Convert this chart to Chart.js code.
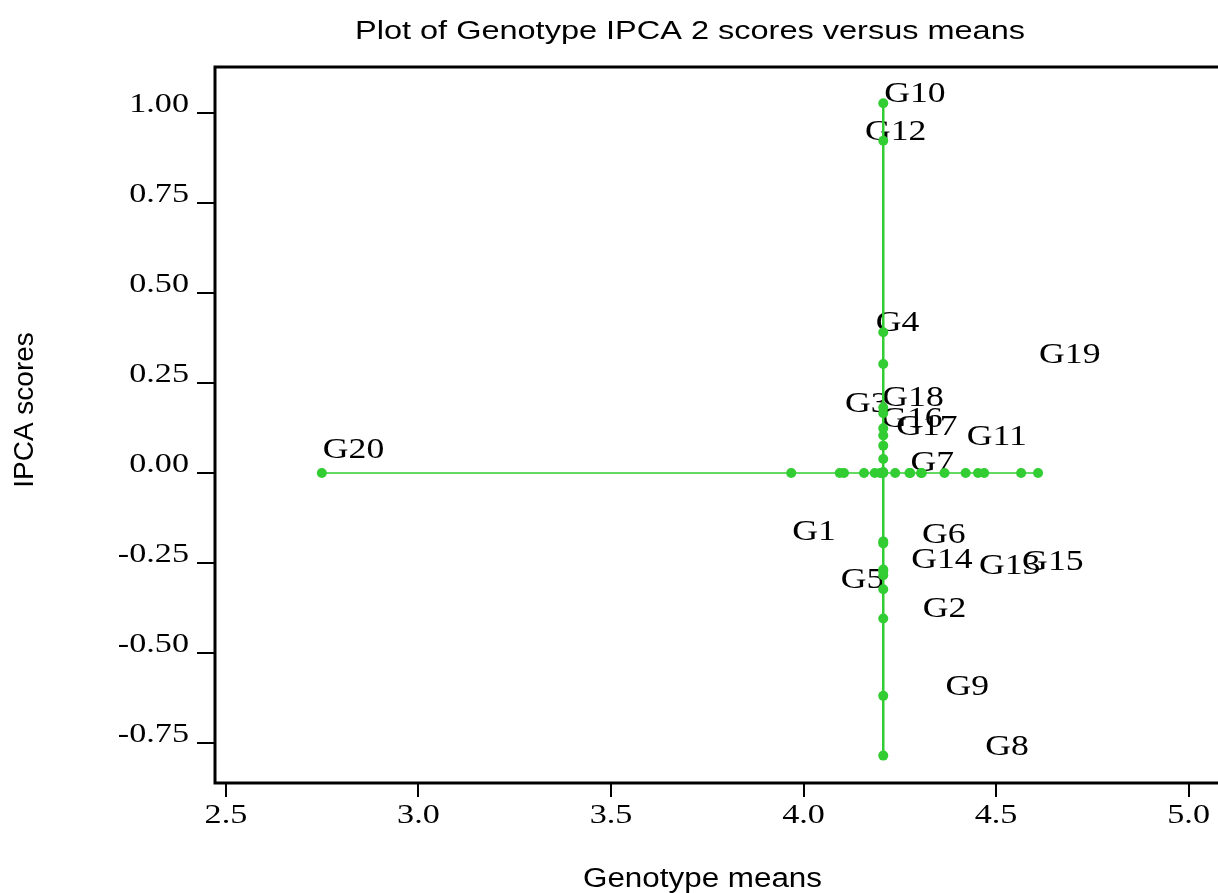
<!DOCTYPE html>
<html>
<head>
<meta charset="utf-8">
<script src="https://cdn.jsdelivr.net/npm/chart.js@4.4.1/dist/chart.umd.min.js"></script>
<style>
  html, body { margin: 0; padding: 0; background: #fff; }
  #wrap { width: 1218px; height: 893px; position: relative; }
</style>
</head>
<body>
<div id="wrap"><canvas id="chart"></canvas></div>
<script>
// values
const genotypes = ['G1','G2','G3','G4','G5','G6','G7','G8','G9','G10',
                   'G11','G12','G13','G14','G15','G16','G17','G18','G19','G20'];
const genoMeans = [3.968, 4.307, 4.105, 4.185, 4.094, 4.305, 4.275, 4.469, 4.366, 4.207,
                   4.421, 4.157, 4.453, 4.277, 4.565, 4.199, 4.238, 4.202, 4.609, 2.749];
const ipca2Scores = [-0.190, -0.404, 0.166, 0.391, -0.323, -0.196, 0.003, -0.785, -0.619, 1.027,
                     0.076, 0.923, -0.284, -0.268, -0.272, 0.124, 0.104, 0.182, 0.303, 0.039];
const grandMean = 4.207;

const xTicks = [2.5, 3.0, 3.5, 4.0, 4.5, 5.0];
const xTickLabels = ['2.5', '3.0', '3.5', '4.0', '4.5', '5.0'];
const yTicks = [1.00, 0.75, 0.50, 0.25, 0.00, -0.25, -0.50, -0.75];
const yTickLabels = ['1.00', '0.75', '0.50', '0.25', '0.00', '-0.25', '-0.50', '-0.75'];

const green = '#32cd32';
const serif = '"Liberation Serif", "Times New Roman", serif';
const sans = '"Liberation Sans", Arial, sans-serif';

// draw text squeezed/stretched horizontally
function wideText(ctx, str, x, y, sx, align) {
    ctx.save();
    ctx.translate(x, y);
    ctx.scale(sx, 1);
    ctx.textAlign = align;
    ctx.textBaseline = 'alphabetic';
    ctx.fillText(str, 0, 0);
    ctx.restore();
}

function fitText(ctx, str, left, y, width) {
    const w = ctx.measureText(str).width;
    wideText(ctx, str, left, y, width / w, 'left');
}

const framePlugin = {
    id: 'frame',
    beforeDatasetsDraw(chart) {
        const ctx = chart.ctx;
        const a = chart.chartArea;
        const xs = chart.scales.x, ys = chart.scales.y;
        ctx.save();
        ctx.strokeStyle = '#000';
        ctx.fillStyle = '#000';

        // box: top, left, bottom (right side runs off the page)
        ctx.lineWidth = 3;
        ctx.beginPath();
        ctx.moveTo(chart.width, a.top);
        ctx.lineTo(a.left, a.top);
        ctx.lineTo(a.left, a.bottom);
        ctx.lineTo(chart.width, a.bottom);
        ctx.stroke();

        // tick marks
        ctx.lineWidth = 2;
        yTicks.forEach(v => {
            const py = Math.round(ys.getPixelForValue(v));
            ctx.beginPath();
            ctx.moveTo(a.left - 18, py);
            ctx.lineTo(a.left, py);
            ctx.stroke();
        });
        xTicks.forEach(v => {
            const px = Math.round(xs.getPixelForValue(v));
            ctx.beginPath();
            ctx.moveTo(px, a.bottom);
            ctx.lineTo(px, a.bottom + 14);
            ctx.stroke();
        });

        // tick labels
        ctx.font = '28px ' + serif;
        yTicks.forEach((v, i) => {
            wideText(ctx, yTickLabels[i], a.left - 26, ys.getPixelForValue(v) - 1.5, 1.22, 'right');
        });
        xTicks.forEach((v, i) => {
            wideText(ctx, xTickLabels[i], xs.getPixelForValue(v), a.bottom + 40, 1.22, 'center');
        });

        // genotype labels
        ctx.font = '29px ' + serif;
        genotypes.forEach((g, i) => {
            wideText(ctx, g, xs.getPixelForValue(genoMeans[i]) + 1,
                     ys.getPixelForValue(ipca2Scores[i]) - 1, 1.23, 'left');
        });

        // titles
        ctx.font = '26px ' + sans;
        fitText(ctx, 'Plot of Genotype IPCA 2 scores versus means', 355, 39, 670);
        ctx.font = '27px ' + sans;
        fitText(ctx, 'Genotype means', 583, 887, 239);
        ctx.font = '28px ' + sans;
        ctx.save();
        ctx.translate(33, 410);
        ctx.rotate(-Math.PI / 2);
        ctx.textAlign = 'center';
        ctx.fillText('IPCA scores', 0, 0);
        ctx.restore();
        ctx.restore();
    }
};

new Chart(document.getElementById('chart'), {
    type: 'scatter',
    data: {
        datasets: [{
            label: 'means',
            data: genoMeans.map(m => ({x: m, y: 0})),
            showLine: true,
            borderColor: green,
            backgroundColor: green,
            borderWidth: 1.5,
            pointRadius: 5,
            pointBorderWidth: 0
        }, {
            label: 'IPCA 2',
            data: ipca2Scores.map(s => ({x: grandMean, y: s})),
            showLine: true,
            borderColor: green,
            backgroundColor: green,
            borderWidth: 2.5,
            pointRadius: 5,
            pointBorderWidth: 0
        }]
    },
    options: {
        responsive: true,
        maintainAspectRatio: false,
        animation: false,
        layout: { padding: { left: 215, top: 67, right: 0, bottom: 110 } },
        scales: {
            x: { type: 'linear', display: false, min: 2.4716, max: 5.0633 },
            y: { type: 'linear', display: false, min: -0.8611, max: 1.1278 }
        },
        plugins: {
            legend: { display: false },
            tooltip: { enabled: false },
            title: { display: false }
        }
    },
    plugins: [framePlugin]
});
</script>
</body>
</html>
